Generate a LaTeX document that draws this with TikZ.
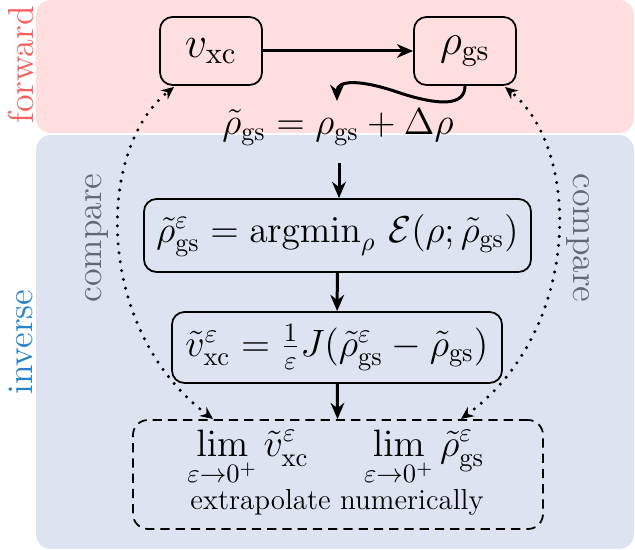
\documentclass[tikz,border=0pt]{standalone}
\usepackage{amsmath}
\usepackage{graphicx}
\usetikzlibrary{arrows.meta}
\definecolor{pinkbg}{RGB}{254,222,223}
\definecolor{bluebg}{RGB}{221,227,241}
\definecolor{fwdcol}{RGB}{246,96,96}
\definecolor{invcol}{RGB}{40,130,200}
\definecolor{cmpcol}{RGB}{100,104,114}
\tikzset{
  box/.style={draw, line width=0.7pt, rounded corners=5pt, inner sep=0pt, font=\Large},
  flow/.style={line width=1.2pt, -{Stealth[length=6.5pt,width=5.5pt]}},
  cmp/.style={line width=1.35pt, dash pattern=on 0pt off 3.6pt, line cap=round,
    {Stealth[length=5pt,width=4.5pt]}-{Stealth[length=5pt,width=4.5pt]}},
  sidelabel/.style={font=\Large, inner sep=0pt},
  plain/.style={inner sep=0pt, font=\Large},
}
\begin{document}
\begin{tikzpicture}[x=0.4pt,y=-0.4pt]
\useasboundingbox (0,0) rectangle (635,550);
\fill[pinkbg, rounded corners=6pt] (36,0) rectangle (634,133);
\fill[bluebg, rounded corners=6pt] (36,135) rectangle (634,549);
\node[sidelabel, text=fwdcol, rotate=90] (fwd) at (21,65) {forward};
\node[sidelabel, text=invcol, rotate=90] (inv) at (21,342) {inverse};
\node[sidelabel, text=cmpcol, rotate=90] (cmpl) at (97,238) {compare};
\node[sidelabel, text=cmpcol, rotate=-90] (cmpr) at (578,238) {compare};

\node[box, minimum width=40.8pt, minimum height=27.2pt] (v) at (211,51)
  {\resizebox{20.8pt}{!}{$v_{\mathrm{xc}}$}};
\node[box, minimum width=40.8pt, minimum height=27.2pt] (r) at (465,51)
  {\resizebox{20pt}{!}{$\rho_{\mathrm{gs}}$}};
\node[plain] (rt) at (338,127)
  {\resizebox{92.4pt}{!}{$\tilde\rho_{\mathrm{gs}}=\rho_{\mathrm{gs}}+\Delta\rho$}};
\node[box, minimum width=154.8pt, minimum height=29.2pt] (b1) at (337.5,235.5)
  {\resizebox{144.8pt}{!}{$\tilde\rho^{\varepsilon}_{\mathrm{gs}}=\operatorname{argmin}_{\rho}\,\mathcal{E}(\rho;\tilde\rho_{\mathrm{gs}})$}};
\node[box, minimum width=132pt, minimum height=28.4pt] (b2) at (337,347.5)
  {\resizebox{121.2pt}{!}{$\tilde v^{\varepsilon}_{\mathrm{xc}}=\frac{1}{\varepsilon}J(\tilde\rho^{\varepsilon}_{\mathrm{gs}}-\tilde\rho_{\mathrm{gs}})$}};
\node[draw, line width=0.7pt, dash pattern=on 3.7pt off 2.4pt, rounded corners=6pt,
  minimum width=164pt, minimum height=43.6pt, inner sep=0pt] (lim) at (338,474.5) {};
\node[plain, anchor=base] (limtxt) at (336,457)
  {\resizebox{118.8pt}{!}{$\displaystyle\lim_{\varepsilon\to0^+}\tilde v^{\varepsilon}_{\mathrm{xc}}\quad\;\lim_{\varepsilon\to0^+}\tilde\rho^{\varepsilon}_{\mathrm{gs}}$}};
\node[plain, anchor=base] (extra) at (337,510)
  {\resizebox{117.2pt}{!}{extrapolate numerically}};

\draw[flow] (v) -- (r);
\coordinate (rtop) at (337,101);
\coordinate (rtb) at (339,163);
\draw[flow] (r.south) .. controls +(0,20) and (440,106) .. (400,93) .. controls (360,79) and (337,80) .. (rtop);
\draw[flow] (rtb) -- (rtb |- b1.north);
\draw[flow] (b1) -- (b2);
\draw[flow] (b2) -- (lim);

\coordinate (vl) at (174,87);
\coordinate (ll) at (213,419);
\coordinate (rr) at (505,87);
\coordinate (lr) at (461,419);
\draw[cmp] (ll) .. controls (95,330) and (95,150) .. (vl);
\draw[cmp] (lr) .. controls (582,330) and (582,150) .. (rr);
\end{tikzpicture}
\end{document}
